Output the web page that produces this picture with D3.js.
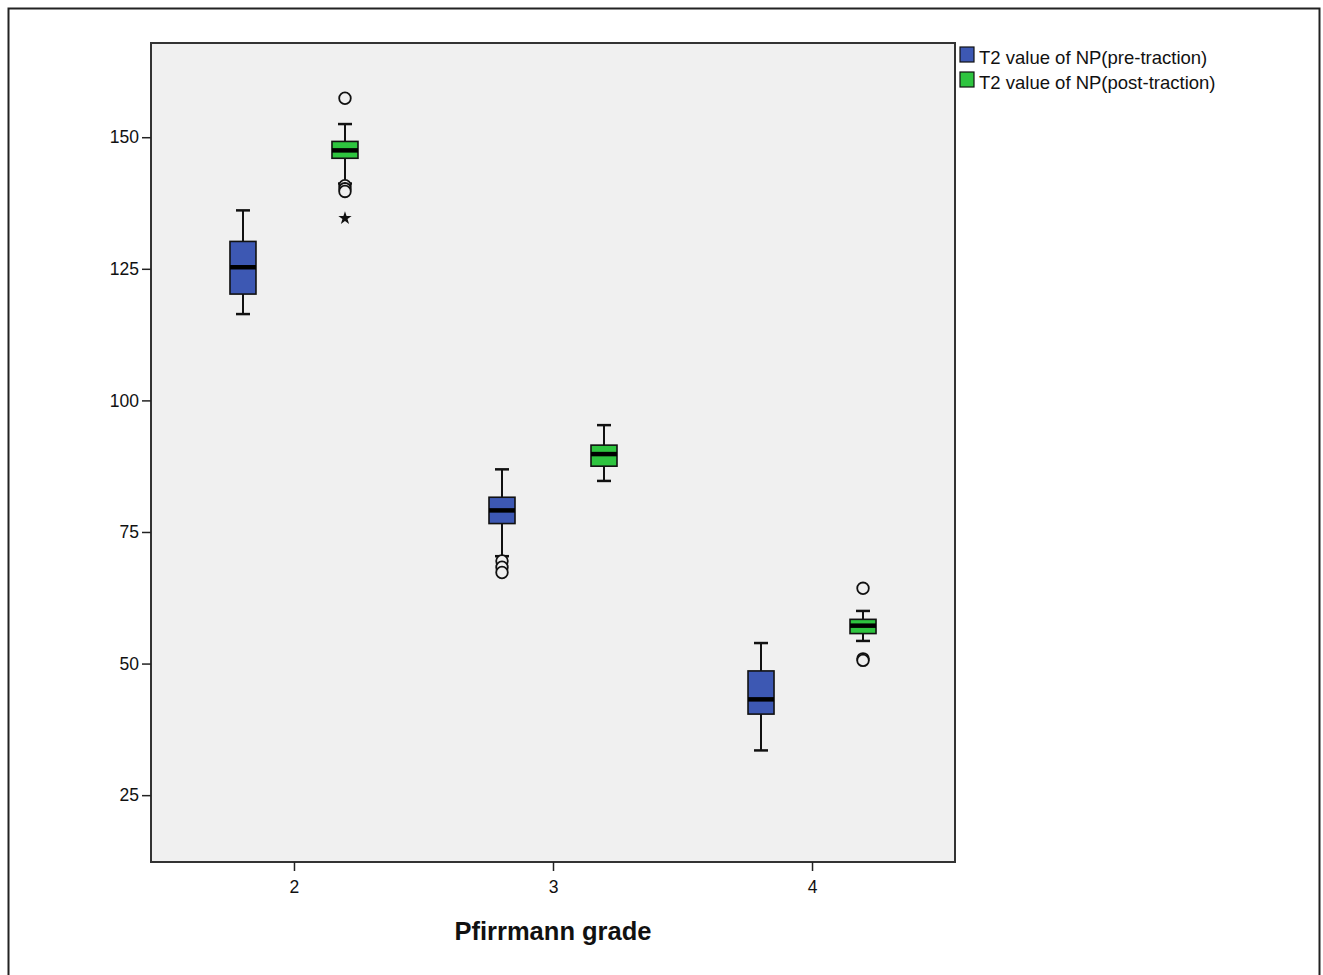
<!DOCTYPE html>
<html>
<head>
<meta charset="utf-8">
<script src="https://cdn.jsdelivr.net/npm/d3@7"></script>
<style>
  body { margin: 0; background: #fff; }
  svg { display: block; }
</style>
</head>
<body>
<svg id="chart" width="1323" height="975"></svg>
<script>
// categories and series
var grades = ["2", "3", "4"];
var seriesNames = ["T2 value of NP(pre-traction)", "T2 value of NP(post-traction)"];
var seriesColors = ["#3d58b3", "#2ec43f"];
var yTicks = [25, 50, 75, 100, 125, 150];

// box stats per grade: [whiskerLow, q1, median, q3, whiskerHigh]
var preStats = [
    [116.4, 120.2, 125.3, 130.2, 136.1],
    [70.4, 76.6, 79.1, 81.6, 86.9],
    [33.5, 40.4, 43.2, 48.6, 53.9]
];
var postStats = [
    [141.2, 146.0, 147.5, 149.2, 152.5],
    [84.7, 87.5, 89.8, 91.5, 95.3],
    [54.3, 55.7, 57.2, 58.4, 60.0]
];
// outliers (circles) and extremes (stars)
var preOutliers = [[], [69.5, 68.3, 67.3], []];
var postOutliers = [[157.4, 140.8, 140.2, 139.7], [], [64.3, 50.9, 50.6]];
var postExtremes = [[134.6], [], []];

var svg = d3.select("svg");

// outer frame
svg.append("rect")
    .attr("x", 8.5).attr("y", 8.5)
    .attr("width", 1311).attr("height", 980)
    .attr("fill", "#fff")
    .attr("stroke", "#222")
    .attr("stroke-width", 2);

var plot = {left: 151, top: 43, right: 955, bottom: 862};

var x = d3.scalePoint()
    .domain(grades)
    .range([plot.left, plot.right])
    .padding(0.552);

var y = d3.scaleLinear()
    .domain([12.3, 167.9])
    .range([plot.bottom, plot.top]);

svg.append("rect")
    .attr("x", plot.left).attr("y", plot.top)
    .attr("width", plot.right - plot.left)
    .attr("height", plot.bottom - plot.top)
    .attr("fill", "#f0f0f0")
    .attr("stroke", "#333")
    .attr("stroke-width", 2);

// axes
var yAxis = svg.append("g")
    .attr("transform", "translate(" + plot.left + ",0)")
    .call(d3.axisLeft(y).tickValues(yTicks).tickSize(9).tickPadding(3));

var xAxis = svg.append("g")
    .attr("transform", "translate(0," + plot.bottom + ")")
    .call(d3.axisBottom(x).tickSize(9).tickPadding(10));

[yAxis, xAxis].forEach(function (a) {
    a.select(".domain").remove();
    a.selectAll(".tick line").attr("stroke", "#222").attr("stroke-width", 1.5);
    a.selectAll(".tick text")
        .attr("fill", "#111")
        .style("font-family", "Liberation Sans, Arial, sans-serif")
        .style("font-size", "17.5px");
});

svg.append("text")
    .attr("x", (plot.left + plot.right) / 2)
    .attr("y", 940)
    .attr("text-anchor", "middle")
    .style("font-family", "Liberation Sans, Arial, sans-serif")
    .style("font-size", "25.5px")
    .style("font-weight", "bold")
    .attr("fill", "#111")
    .text("Pfirrmann grade");

var boxW = 26, offset = 51, capW = 14;

function drawBoxes(stats, outliers, extremes, dx, color) {
    stats.forEach(function (s, i) {
        var cx = x(grades[i]) + dx;
        var g = svg.append("g");
        // whisker line
        g.append("line")
            .attr("x1", cx).attr("x2", cx)
            .attr("y1", y(s[0])).attr("y2", y(s[4]))
            .attr("stroke", "#111").attr("stroke-width", 2);
        [s[0], s[4]].forEach(function (v) {
            g.append("line")
                .attr("x1", cx - capW / 2).attr("x2", cx + capW / 2)
                .attr("y1", y(v)).attr("y2", y(v))
                .attr("stroke", "#111").attr("stroke-width", 2.5);
        });
        g.append("rect")
            .attr("x", cx - boxW / 2).attr("y", y(s[3]))
            .attr("width", boxW).attr("height", y(s[1]) - y(s[3]))
            .attr("fill", color)
            .attr("stroke", "#111").attr("stroke-width", 1.6);
        g.append("line")
            .attr("x1", cx - boxW / 2).attr("x2", cx + boxW / 2)
            .attr("y1", y(s[2])).attr("y2", y(s[2]))
            .attr("stroke", "#000").attr("stroke-width", 4.5);
        (outliers[i] || []).forEach(function (v) {
            g.append("circle")
                .attr("cx", cx).attr("cy", y(v)).attr("r", 5.8)
                .attr("fill", "#f0f0f0")
                .attr("stroke", "#111").attr("stroke-width", 1.8);
        });
        (extremes[i] || []).forEach(function (v) {
            g.append("path")
                .attr("d", d3.symbol(d3.symbolStar, 55)())
                .attr("transform", "translate(" + cx + "," + y(v) + ")")
                .attr("fill", "#111");
        });
    });
}

drawBoxes(preStats, preOutliers, [[], [], []], -offset, seriesColors[0]);
drawBoxes(postStats, postOutliers, postExtremes, offset, seriesColors[1]);

// legend
var legend = svg.append("g").attr("transform", "translate(960,47)");
seriesNames.forEach(function (name, i) {
    legend.append("rect")
        .attr("x", 0).attr("y", i * 25)
        .attr("width", 14).attr("height", 15)
        .attr("fill", seriesColors[i])
        .attr("stroke", "#111").attr("stroke-width", 1.2);
    legend.append("text")
        .attr("x", 19).attr("y", i * 25 + 17)
        .style("font-family", "Liberation Sans, Arial, sans-serif")
        .style("font-size", "18.5px")
        .attr("fill", "#111")
        .text(name);
});
</script>
</body>
</html>
